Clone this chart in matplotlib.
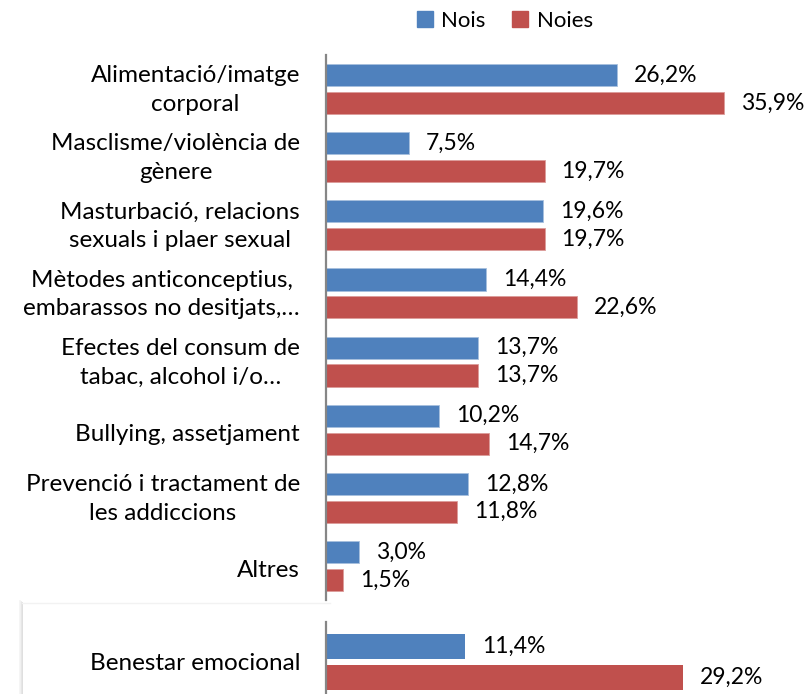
import numpy as np
import matplotlib.pyplot as plt
from matplotlib.patches import Rectangle
from matplotlib.lines import Line2D

# Data
categories = ["Alimentació/imatge\ncorporal",
              "Masclisme/violència de\ngènere",
              "Masturbació, relacions\nsexuals i plaer sexual",
              "Mètodes anticonceptius,\nembarassos no desitjats,…",
              "Efectes del consum de\ntabac, alcohol i/o…",
              "Bullying, assetjament",
              "Prevenció i tractament de\nles addiccions",
              "Altres"]
nois = [26.2, 7.5, 19.6, 14.4, 13.7, 10.2, 12.8, 3.0]
noies = [35.9, 19.7, 19.7, 22.6, 13.7, 14.7, 11.8, 1.5]

extra_category = "Benestar emocional"
extra_nois = 11.4
extra_noies = 29.2

series_names = ["Nois", "Noies"]

# Style
blue = "#4F81BD"
red = "#C0504D"
axis_gray = "#868686"
plt.rcParams["font.family"] = ["Lato", "DejaVu Sans"]
fs_cat = 17.5
fs_val = 16.5
fs_leg = 16

W, H = 810, 694
fig = plt.figure(figsize=(W / 100, H / 100), dpi=100)

def fig_rect(x0, y0, x1, y1):
    # pixel box (top-left origin) -> figure fraction
    return [x0 / W, 1 - y1 / H, (x1 - x0) / W, (y1 - y0) / H]

def fmt(v):
    return ("%.1f%%" % v).replace(".", ",")

def style_axes(ax):
    for s in ["top", "right", "bottom"]:
        ax.spines[s].set_visible(False)
    ax.spines["left"].set_color(axis_gray)
    ax.spines["left"].set_linewidth(1.6)
    ax.set_xticks([])
    ax.set_yticks([])
    ax.patch.set_alpha(0)

# Top panel
ax = fig.add_axes(fig_rect(326, 55, 803, 600))
y = np.arange(len(categories))
bh = 0.325
off = 0.205
ax.barh(y - off, nois, height=bh, color=blue, edgecolor="#a7c0de", linewidth=0.6)
ax.barh(y + off, noies, height=bh, color=red, edgecolor="#dc9c9a", linewidth=0.6)
ax.set_xlim(0, 43)
ax.set_ylim(len(categories) - 0.5, -0.5)
style_axes(ax)
for i in range(len(categories)):
    ax.annotate(fmt(nois[i]), (nois[i], y[i] - off), xytext=(17, 0), textcoords="offset pixels",
                va="center", ha="left", fontsize=fs_val)
    ax.annotate(fmt(noies[i]), (noies[i], y[i] + off), xytext=(17, 0), textcoords="offset pixels",
                va="center", ha="left", fontsize=fs_val)
    # single-line labels sit a little lower in the original
    dy = -1 if "\n" in categories[i] else -5
    ax.annotate(categories[i], (0, y[i]), xytext=(-26, dy), textcoords="offset pixels",
                va="center", ha="right", ma="center", fontsize=fs_cat, linespacing=1.45)

# Shadowed box behind the second panel
for k, c in enumerate(["#d9d9d9", "#e8e8e8", "#f3f3f3"]):
    fig.add_artist(Line2D([(22 - k) / W, (22 - k) / W], [0, 1 - (603 - k) / H],
                          color=c, linewidth=1.2, transform=fig.transFigure))
fig.add_artist(Line2D([22 / W, 330 / W], [1 - 603 / H, 1 - 603 / H],
                      color="#f2f2f2", linewidth=1.0, transform=fig.transFigure))

# Bottom panel
ax2 = fig.add_axes(fig_rect(326, 622, 803, 694))
bh2 = 0.31
off2 = 0.197
ax2.barh([-off2], [extra_nois], height=bh2, color=blue)
ax2.barh([off2], [extra_noies], height=bh2, color=red)
ax2.set_xlim(0, 39)
ax2.set_ylim(0.4, -0.5)
style_axes(ax2)
ax2.annotate(fmt(extra_nois), (extra_nois, -off2), xytext=(17, 0), textcoords="offset pixels",
             va="center", ha="left", fontsize=fs_val)
ax2.annotate(fmt(extra_noies), (extra_noies, off2), xytext=(17, 0), textcoords="offset pixels",
             va="center", ha="left", fontsize=fs_val, annotation_clip=False)
ax2.annotate(extra_category, (0, 0), xytext=(-26, -1), textcoords="offset pixels",
             va="center", ha="right", fontsize=fs_cat)

# Legend
handles = [Rectangle((0, 0), 1, 1, color=blue), Rectangle((0, 0), 1, 1, color=red)]
fig.legend(handles, series_names, loc="center", bbox_to_anchor=(505 / W, 1 - 21 / H),
           ncol=2, frameon=False, fontsize=fs_leg, handlelength=0.7, handleheight=0.7,
           handletextpad=0.4, columnspacing=1.2)

fig.savefig("out.png", dpi=100)
